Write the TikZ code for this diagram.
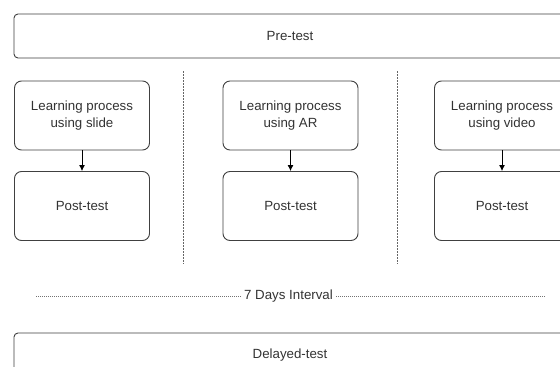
\documentclass[tikz,border=0pt]{standalone}
\usepackage{fontspec}
\setmainfont{Liberation Sans}
\usetikzlibrary{arrows.meta}
\begin{document}
\begin{tikzpicture}[x=1pt,y=-1pt,
  box/.style={draw=black!75, line width=0.9pt, rounded corners=7pt, align=center,
    text=black!80, font=\fontsize{13.3}{17}\selectfont, inner sep=0pt},
  wide/.style={box, rounded corners=4pt, minimum width=552pt, minimum height=44pt},
  small/.style={box, minimum width=135pt, minimum height=69pt},
  sep/.style={draw=black!60, line width=0.8pt, dash pattern=on 1.5pt off 1.5pt},
  link/.style={draw=black, line width=0.9pt, -{Latex[length=6pt,width=6pt]}}]
\useasboundingbox (0,0) rectangle (560,367);
\clip (0,0) rectangle (560,367);
\fill[white] (0,0) rectangle (560,367);
\node[wide] (pre) at (290,36) {Pre-test};
\node[small] (l1) at (82,115.5) {Learning process\\using slide};
\node[small] (p1) at (82,206) {Post-test};
\node[small] (l2) at (290.5,115.5) {Learning process\\using AR};
\node[small] (p2) at (290.5,206) {Post-test};
\node[small] (l3) at (502,115.5) {Learning process\\using video};
\node[small] (p3) at (502,206) {Post-test};
\draw[link] (l1) -- (p1);
\draw[link] (l2) -- (p2);
\draw[link] (l3) -- (p3);
\coordinate (s1a) at (183,71); \coordinate (s1b) at (183,264);
\coordinate (s2a) at (397.5,71); \coordinate (s2b) at (397.5,264);
\draw[sep] (s1a) -- (s1b);
\draw[sep] (s2a) -- (s2b);
\node[text=black!80, font=\fontsize{13.3}{17}\selectfont, inner sep=3pt] (int) at (288.5,296) {7 Days Interval};
\coordinate (ia) at (36,296); \coordinate (ib) at (545,296);
\draw[draw=black!55, line width=0.6pt, dash pattern=on 1.2pt off 0.8pt] (ia) -- (int.west);
\draw[draw=black!55, line width=0.6pt, dash pattern=on 1.2pt off 0.8pt] (int.east) -- (ib);
\node[wide] (del) at (290,355) {Delayed-test};
\end{tikzpicture}
\end{document}
